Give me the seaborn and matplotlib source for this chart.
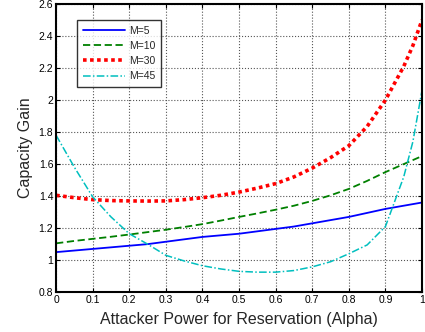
import numpy as np
import pandas as pd
import matplotlib
matplotlib.use("Agg")
import matplotlib.pyplot as plt
import seaborn as sns

alpha = [0.0, 0.05, 0.1, 0.15, 0.2, 0.25, 0.3, 0.35, 0.4, 0.45, 0.5, 0.55, 0.6,
         0.65, 0.7, 0.75, 0.8, 0.85, 0.9, 0.95, 0.975, 1.0]
m5 = [1.05, 1.06, 1.07, 1.08, 1.09, 1.10, 1.115, 1.13, 1.145, 1.155, 1.165, 1.18, 1.195,
      1.21, 1.23, 1.25, 1.27, 1.295, 1.32, 1.34, 1.35, 1.36]
m10 = [1.105, 1.12, 1.133, 1.146, 1.16, 1.175, 1.19, 1.207, 1.225, 1.247, 1.27, 1.292, 1.315,
       1.34, 1.37, 1.405, 1.445, 1.495, 1.55, 1.60, 1.625, 1.65]
m30 = [1.405, 1.39, 1.378, 1.372, 1.37, 1.369, 1.37, 1.378, 1.39, 1.405, 1.425, 1.45, 1.478,
       1.52, 1.575, 1.64, 1.715, 1.835, 2.0, 2.21, 2.34, 2.5]
m45 = [1.78, 1.58, 1.395, 1.27, 1.165, 1.10, 1.03, 0.995, 0.965, 0.945, 0.93, 0.925, 0.925,
       0.935, 0.958, 0.99, 1.04, 1.095, 1.21, 1.52, 1.74, 2.06]
labels = ["M=5", "M=10", "M=30", "M=45"]
xticks = [0, 0.1, 0.2, 0.3, 0.4, 0.5, 0.6, 0.7, 0.8, 0.9, 1]
xticklabels = ["0", "0.1", "0.2", "0.3", "0.4", "0.5", "0.6", "0.7", "0.8", "0.9", "1"]
yticks = [0.8, 1.0, 1.2, 1.4, 1.6, 1.8, 2.0, 2.2, 2.4, 2.6]
yticklabels = ["0.8", "1", "1.2", "1.4", "1.6", "1.8", "2", "2.2", "2.4", "2.6"]

sns.set_style("white")
plt.rcParams['font.family'] = ['Liberation Sans', 'DejaVu Sans']

fig = plt.figure(figsize=(4.25, 3.32), dpi=100)
ax = fig.add_axes([0.132, 0.12, 0.861, 0.868])

styles = [
    dict(color="#0000ff", linestyle="-", linewidth=1.3),
    dict(color="#008000", linestyle=(0, (4, 2)), linewidth=1.3),
    dict(color="#ff0000", linestyle=(0, (1.0, 0.95)), linewidth=2.6),
    dict(color="#00bfbf", linestyle=(0, (5, 1.5, 1, 1.5)), linewidth=1.1),
]
for ys, lab, st in zip([m5, m10, m30, m45], labels, styles):
    df = pd.DataFrame({"alpha": alpha, "gain": ys})
    sns.lineplot(data=df, x="alpha", y="gain", ax=ax, label=lab, **st)

ax.set_xlim(0, 1)
ax.set_ylim(0.8, 2.6)
ax.set_xticks(xticks)
ax.set_xticklabels(xticklabels)
ax.set_yticks(yticks)
ax.set_yticklabels(yticklabels)
ax.tick_params(direction="in", length=3, width=0.8, labelsize=7.5, pad=2,
               top=True, right=True, bottom=True, left=True, colors="black")
ax.grid(True, color="#555555", linestyle=":", linewidth=0.8)
for s in ax.spines.values():
    s.set_color("black")
    s.set_linewidth(1.5)
ax.set_xlabel("Attacker Power for Reservation (Alpha)", fontsize=11.5, labelpad=5)
ax.set_ylabel("Capacity Gain", fontsize=11.5, labelpad=4)

leg = ax.legend(loc="upper left", bbox_to_anchor=(0.058, 0.945), fontsize=7.5,
                frameon=True, fancybox=False, handlelength=4.0, handletextpad=0.4,
                borderpad=0.55, labelspacing=0.5, borderaxespad=0)
leg.get_frame().set_edgecolor("black")
leg.get_frame().set_linewidth(1.0)

fig.savefig("out.png", dpi=100)
